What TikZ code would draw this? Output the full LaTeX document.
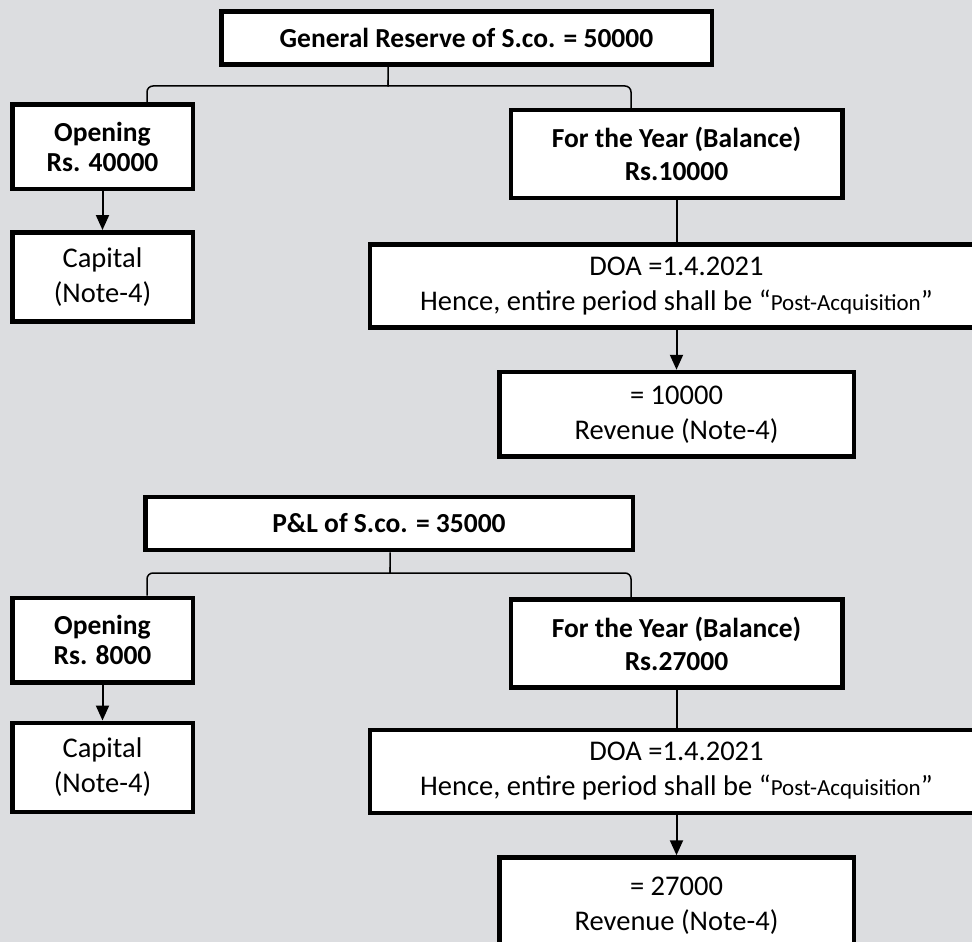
\documentclass[tikz,border=0pt]{standalone}
\usepackage{fontspec}
\setmainfont{Carlito}
\usepackage{xcolor}
\usetikzlibrary{arrows.meta,positioning}
\definecolor{paper}{RGB}{220,221,224}

\begin{document}
\begin{tikzpicture}[
      x=1pt, y=-1pt,
      box/.style={draw, line width=4.5pt, fill=white, align=center, inner sep=0pt,
                  font=\fontsize{28.5}{35}\selectfont},
      head/.style={box, font=\fontsize{27.5}{33}\selectfont\bfseries},
      total/.style={head, minimum height=53pt},
      opening/.style={head, minimum width=180.5pt, minimum height=84.5pt,
                  font=\fontsize{27.5}{30}\selectfont\bfseries},
      capital/.style={box, minimum width=180.5pt, minimum height=89pt},
      year/.style={head, minimum width=331.5pt, minimum height=88pt},
      doa/.style={box, minimum width=613.5pt, minimum height=83pt},
      revenue/.style={box, minimum width=354.5pt, minimum height=84.5pt},
      arr/.style={-{Triangle[length=15pt,width=13pt]}, line width=2pt},
      link/.style={line width=2pt},
      brace/.style={line width=1.5pt, rounded corners=6pt}]
    \fill[paper] (0,0) rectangle (972,942);
    \useasboundingbox (0,0) rectangle (972,942);
    % general reserve
    \node[total, minimum width=490.5pt] (gr) at (466.5,38) {General Reserve of S.co. = 50000};
    \node[opening] (open1) at (102.5,146.5) {Opening\\Rs. 40000};
    \node[capital, below=39pt of open1] (cap1) {Capital\\(Note-4)};
    \node[year] (year1) at (676.5,154) {For the Year (Balance)\\Rs.10000};
    \node[doa, below=42pt of year1] (doa1) {DOA =1.4.2021\\Hence, entire period shall be
          “{\fontsize{23}{35}\selectfont Post-Acquisition}”};
    \node[revenue, below=40pt of doa1] (rev1) {= 10000\\Revenue (Note-4)};
    \coordinate (fork1) at (388,86);
    \draw[brace] (gr.south -| fork1) -- ([yshift=6pt]fork1) .. controls (fork1) .. ([xshift=-6pt]fork1)
          -| ([xshift=44.5pt]open1.north);
    \draw[brace] ([yshift=6pt]fork1) .. controls (fork1) .. ([xshift=6pt]fork1)
          -| ([xshift=-45.5pt]year1.north);
    \draw[arr] (open1) -- (cap1);
    \draw[link] (year1) -- (doa1);
    \draw[arr] (doa1) -- (rev1);
    % P&L
    \node[total, minimum width=487.5pt] (pl) at (389,523.5) {P\&L of S.co. = 35000};
    \node[opening] (open2) at (102.5,640) {Opening\\Rs. 8000};
    \node[capital, below=36pt of open2] (cap2) {Capital\\(Note-4)};
    \node[year] (year2) at (676.5,643.5) {For the Year (Balance)\\Rs.27000};
    \node[doa, below=38pt of year2] (doa2) {DOA =1.4.2021\\Hence, entire period shall be
          “{\fontsize{23}{35}\selectfont Post-Acquisition}”};
    \node[revenue, minimum height=96pt, below=40pt of doa2] (rev2) {= 27000\\Revenue (Note-4)};
    \coordinate (fork2) at (390,573);
    \draw[brace] (pl.south -| fork2) -- ([yshift=6pt]fork2) .. controls (fork2) .. ([xshift=-6pt]fork2)
          -| ([xshift=44.5pt]open2.north);
    \draw[brace] ([yshift=6pt]fork2) .. controls (fork2) .. ([xshift=6pt]fork2)
          -| ([xshift=-45.5pt]year2.north);
    \draw[arr] (open2) -- (cap2);
    \draw[link] (year2) -- (doa2);
    \draw[arr] (doa2) -- (rev2);
\end{tikzpicture}
\end{document}
